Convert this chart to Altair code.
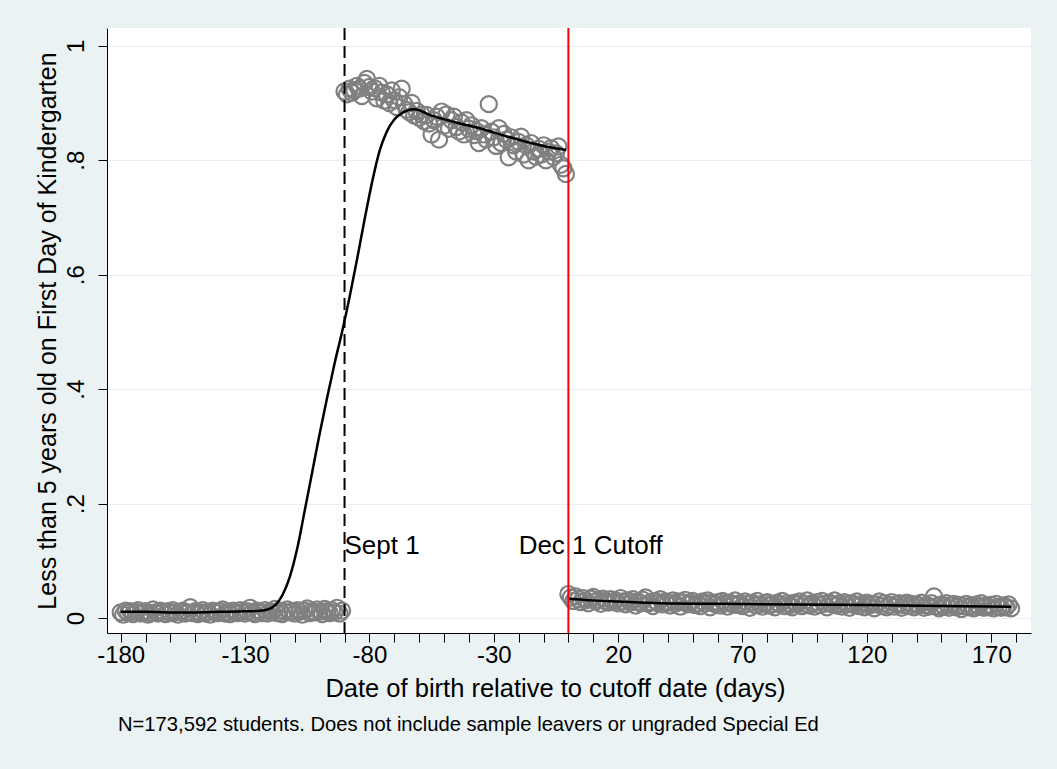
import altair as alt
import pandas as pd

# Share of children under 5 on the first day of kindergarten, by birth day
# relative to the Dec 1 entry cutoff (day 0).
days_before_sept = list(range(-180, -90))
share_before_sept = [
    0.010, 0.006, 0.013, 0.009, 0.012, 0.007, 0.011, 0.014, 0.008, 0.010,
    0.012, 0.006, 0.009, 0.015, 0.010, 0.008, 0.013, 0.011, 0.007, 0.012,
    0.009, 0.014, 0.010, 0.006, 0.011, 0.013, 0.008, 0.010, 0.019, 0.009,
    0.012, 0.007, 0.010, 0.014, 0.008, 0.011, 0.006, 0.013, 0.010, 0.009,
    0.012, 0.015, 0.008, 0.011, 0.007, 0.013, 0.010, 0.009, 0.014, 0.011,
    0.008, 0.012, 0.018, 0.010, 0.007, 0.013, 0.011, 0.009, 0.014, 0.008,
    0.012, 0.010, 0.016, 0.009, 0.013, 0.007, 0.011, 0.015, 0.010, 0.012,
    0.008, 0.014, 0.011, 0.006, 0.013, 0.017, 0.009, 0.012, 0.010, 0.015,
    0.011, 0.007, 0.016, 0.012, 0.009, 0.014, 0.010, 0.018, 0.008, 0.013,
]

days_sept_to_dec = list(range(-90, 0))
share_sept_to_dec = [
    0.920, 0.915, 0.925, 0.918, 0.922, 0.930,
    0.925, 0.912, 0.935, 0.942, 0.928, 0.920,
    0.926, 0.908, 0.930, 0.918, 0.904, 0.915,
    0.900, 0.922, 0.905, 0.893, 0.910, 0.925,
    0.898, 0.888, 0.884, 0.900, 0.878, 0.886,
    0.874, 0.880, 0.868, 0.879, 0.864, 0.845,
    0.870, 0.876, 0.836, 0.885, 0.860, 0.880,
    0.855, 0.870, 0.876, 0.858, 0.850, 0.866,
    0.845, 0.870, 0.855, 0.861, 0.844, 0.851,
    0.830, 0.856, 0.845, 0.836, 0.898, 0.850,
    0.840, 0.825, 0.856, 0.830, 0.846, 0.836,
    0.805, 0.840, 0.826, 0.815, 0.832, 0.841,
    0.810, 0.826, 0.800, 0.830, 0.815, 0.806,
    0.820, 0.810, 0.826, 0.800, 0.815, 0.821,
    0.806, 0.812, 0.824, 0.792, 0.786, 0.776,
]

days_after_dec = list(range(0, 179))
share_after_dec = [
    0.042, 0.036, 0.030, 0.038, 0.033, 0.028, 0.035, 0.031, 0.026, 0.034,
    0.037, 0.029, 0.032, 0.025, 0.034, 0.030, 0.027, 0.033, 0.028, 0.031,
    0.026, 0.035, 0.029, 0.024, 0.031, 0.027, 0.033, 0.022, 0.029, 0.026,
    0.032, 0.036, 0.025, 0.028, 0.021, 0.030, 0.026, 0.033, 0.024, 0.029,
    0.027, 0.022, 0.031, 0.025, 0.029, 0.020, 0.028, 0.032, 0.024, 0.027,
    0.030, 0.023, 0.026, 0.021, 0.029, 0.025, 0.031, 0.019, 0.027, 0.024,
    0.028, 0.022, 0.030, 0.026, 0.020, 0.027, 0.024, 0.031, 0.023, 0.026,
    0.021, 0.029, 0.025, 0.018, 0.027, 0.023, 0.030, 0.024, 0.020, 0.026,
    0.028, 0.022, 0.025, 0.019, 0.027, 0.024, 0.030, 0.021, 0.026, 0.023,
    0.019, 0.027, 0.024, 0.029, 0.021, 0.025, 0.031, 0.022, 0.026, 0.020,
    0.028, 0.023, 0.030, 0.025, 0.019, 0.027, 0.024, 0.031, 0.022, 0.026,
    0.020, 0.028, 0.024, 0.018, 0.026, 0.023, 0.029, 0.021, 0.025, 0.019,
    0.027, 0.022, 0.025, 0.017, 0.024, 0.029, 0.021, 0.026, 0.019, 0.023,
    0.028, 0.020, 0.024, 0.026, 0.018, 0.023, 0.027, 0.021, 0.025, 0.019,
    0.024, 0.022, 0.027, 0.018, 0.023, 0.020, 0.026, 0.038, 0.021, 0.017,
    0.024, 0.020, 0.026, 0.018, 0.022, 0.025, 0.019, 0.023, 0.016, 0.021,
    0.025, 0.019, 0.022, 0.017, 0.024, 0.020, 0.026, 0.018, 0.022, 0.019,
    0.023, 0.017, 0.025, 0.020, 0.018, 0.022, 0.019, 0.024, 0.017,
]

# Smoothed fit before and after the cutoff
fit_pre_days = [-180, -170, -160, -150, -140, -130, -124, -121, -118, -115,
                -112, -109, -106, -103, -100, -97, -94, -91, -88, -85,
                -82, -79, -76, -73, -70, -67, -64, -62, -55, -45,
                -35, -25, -15, -8, -1]
fit_pre_share = [0.011, 0.011, 0.010, 0.010, 0.011, 0.012, 0.013, 0.015, 0.022, 0.040,
                 0.072, 0.122, 0.188, 0.255, 0.322, 0.385, 0.445, 0.500, 0.560, 0.626,
                 0.695, 0.760, 0.815, 0.850, 0.871, 0.882, 0.888, 0.889, 0.878, 0.866,
                 0.855, 0.842, 0.830, 0.823, 0.818]
fit_post_days = [0, 10, 20, 37, 60, 90, 120, 150, 178]
fit_post_share = [0.034, 0.031, 0.029, 0.026, 0.025, 0.024, 0.023, 0.021, 0.020]

sept_line_day = -90
cutoff_day = 0

x_tick_values = list(range(-180, 181, 10))
x_label_values = [-180, -130, -80, -30, 20, 70, 120, 170]
y_tick_values = [0, 0.2, 0.4, 0.6, 0.8, 1]
y_tick_labels = ["0", ".2", ".4", ".6", ".8", "1"]

FONT = "Liberation Sans"

points = pd.DataFrame({
    "day": days_before_sept + days_sept_to_dec + days_after_dec,
    "share": share_before_sept + share_sept_to_dec + share_after_dec,
})
fit = pd.DataFrame({
    "day": fit_pre_days + fit_post_days,
    "share": fit_pre_share + fit_post_share,
    "segment": ["pre"] * len(fit_pre_days) + ["post"] * len(fit_post_days),
})
vlines = pd.DataFrame({"day": [sept_line_day]})
cutline = pd.DataFrame({"day": [cutoff_day]})
labels = pd.DataFrame({
    "day": [sept_line_day, -20],
    "share": [0.126, 0.126],
    "text": ["Sept 1", "Dec 1 Cutoff"],
    "dx": [3, 0],
})

x_label_expr = ("indexof([" + ",".join(str(v) for v in x_label_values)
                + "], datum.value) >= 0 ? '' + datum.value : ''")
y_label_expr = ""
for v, lab in zip(y_tick_values, y_tick_labels):
    y_label_expr += f"abs(datum.value - {v}) < 1e-6 ? '{lab}' : "
y_label_expr += "''"

x_scale = alt.Scale(domain=[-185.5, 186], nice=False, zero=False)
y_scale = alt.Scale(domain=[-0.026, 1.031], nice=False, zero=False)

x_axis = alt.Axis(
    title="Date of birth relative to cutoff date (days)",
    values=x_tick_values, labelExpr=x_label_expr, grid=False,
    domainColor="black", domainWidth=1, tickColor="black", tickSize=9,
    labelFontSize=24, labelFont=FONT, labelColor="black", labelPadding=1,
    labelFlush=False, labelOverlap=False, labelSeparation=0,
    titleFontSize=25.5, titleFont=FONT, titleColor="black", titleFontWeight="normal",
    titlePadding=9, titleX=448,
)
y_axis = alt.Axis(
    title="Less than 5 years old on First Day of Kindergarten",
    values=y_tick_values, labelExpr=y_label_expr, labelAngle=-90,
    grid=True, gridColor="#e6eff1", gridWidth=1.2,
    domainColor="black", domainWidth=1, tickColor="black", tickSize=9,
    labelFontSize=24, labelFont=FONT, labelColor="black", labelPadding=10,
    labelFlush=False, labelOverlap=False,
    titleFontSize=25, titleFont=FONT, titleColor="black", titleFontWeight="normal",
    titlePadding=4,
)

x_enc = alt.X("day:Q", scale=x_scale, axis=x_axis)
y_enc = alt.Y("share:Q", scale=y_scale, axis=y_axis)

scatter = alt.Chart(points).mark_point(
    shape="circle", filled=False, color="#808080", size=260, strokeWidth=2.2, opacity=1
).encode(x=x_enc, y=y_enc)

fit_lines = alt.Chart(fit).mark_line(
    color="black", strokeWidth=2.5, interpolate="monotone"
).encode(x=x_enc, y=y_enc, detail="segment:N")

sept_rule = alt.Chart(vlines).mark_rule(
    color="black", strokeWidth=2, strokeDash=[12, 6]
).encode(x=x_enc)

cutoff_rule = alt.Chart(cutline).mark_rule(
    color="#ff0000", strokeWidth=2
).encode(x=x_enc)

annotations = alt.Chart(labels).mark_text(
    align="left", baseline="middle", font=FONT, fontSize=26, color="black"
).encode(
    x=x_enc,
    y=y_enc,
    text="text:N",
    xOffset=alt.XOffset("dx:Q", scale=None),
)

note = alt.Chart(pd.DataFrame({"t": ["N=173,592 students. Does not include sample leavers or ungraded Special Ed"]})).mark_text(
    align="left", baseline="middle", font=FONT, fontSize=20.2, color="black"
).encode(
    x=alt.value(11),
    y=alt.value(697),
    text="t:N",
)

chart = alt.layer(
    scatter, fit_lines, sept_rule, cutoff_rule, annotations, note
).properties(
    width=924,
    height=605,
    padding={"left": 107, "top": 28, "right": 26, "bottom": 136},
    autosize=alt.AutoSizeParams(type="none"),
    background="#eaf2f3",
).configure_view(
    stroke=None, fill="white"
).configure_axisX(
    labelOverlap=False
)

chart.save("out.html", embed_options={"renderer": "svg", "actions": False})
